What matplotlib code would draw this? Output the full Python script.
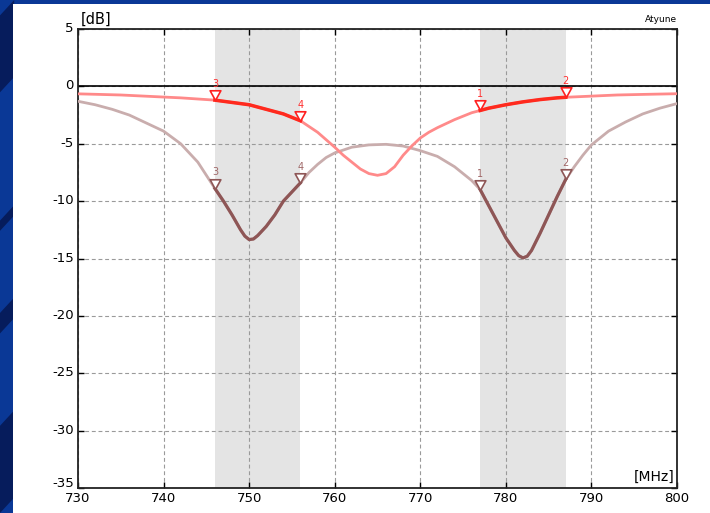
import matplotlib
matplotlib.use("Agg")
import matplotlib.pyplot as plt
import numpy as np
from matplotlib.path import Path
from matplotlib.patches import Rectangle, Polygon
import matplotlib.transforms as mtransforms

# ---- data ----
freq_red = [730, 735, 740, 742, 746, 748, 750, 752, 754, 756, 758, 760, 761, 762, 763, 764, 765,
            766, 767, 768, 769, 770, 771, 772, 774, 776, 777, 778, 780, 782, 784, 786, 787, 790,
            793, 796, 800]
db_red = [-0.65, -0.75, -0.93, -1.0, -1.2, -1.4, -1.6, -2.0, -2.4, -3.0, -4.0, -5.3, -6.0, -6.6,
          -7.2, -7.6, -7.75, -7.6, -7.0, -6.0, -5.2, -4.5, -4.0, -3.6, -2.9, -2.3, -2.1, -1.9,
          -1.6, -1.35, -1.15, -1.0, -0.95, -0.85, -0.75, -0.7, -0.64]

freq_brown = [730, 732, 734, 736, 738, 740, 742, 744, 746, 747, 748, 749, 749.5, 750, 750.5, 751,
              752, 753, 754, 755, 756, 757, 758, 759, 760, 762, 764, 766, 768, 770, 772, 774, 776,
              777, 778, 779, 780, 781, 781.5, 782, 782.5, 783, 784, 785, 786, 787, 788, 789, 790,
              792, 794, 796, 798, 800]
db_brown = [-1.3, -1.6, -2.0, -2.5, -3.2, -3.9, -5.0, -6.6, -8.9, -10.0, -11.2, -12.5, -13.05,
            -13.35, -13.3, -13.0, -12.2, -11.2, -10.0, -9.2, -8.4, -7.5, -6.8, -6.2, -5.8, -5.3,
            -5.1, -5.05, -5.2, -5.6, -6.1, -7.0, -8.2, -9.0, -10.4, -11.8, -13.2, -14.3, -14.75,
            -14.95, -14.8, -14.3, -12.8, -11.2, -9.6, -8.1, -7.0, -6.0, -5.1, -3.9, -3.1, -2.4,
            -1.9, -1.5]

bands = [(746, 756), (777, 787)]
marker_freqs = [777, 787, 746, 756]
marker_labels = ["1", "2", "3", "4"]

x_ticks = [730, 740, 750, 760, 770, 780, 790, 800]
y_ticks = [5, 0, -5, -10, -15, -20, -25, -30, -35]

# ---- figure ----
fig = plt.figure(figsize=(7.10, 5.13), dpi=100, facecolor="#0a3896")
for (y0, y1) in [(0.82, 1.0), (0.55, 0.6), (0.35, 0.42), (0.0, 0.2)]:
    fig.patches.append(Polygon([[0, y0], [0.02, y0 + 0.03], [0.02, y1], [0, y1 - 0.03]],
                               closed=True, transform=fig.transFigure,
                               facecolor="#061c5c", edgecolor="none", zorder=-10))
fig.patches.append(Rectangle((13 / 710, 0), 1 - 13 / 710, 509 / 513, transform=fig.transFigure,
                             facecolor="white", edgecolor="none", zorder=-5))

ax = fig.add_axes([78 / 710, 1 - 488 / 513, (677 - 78) / 710, (488 - 29) / 513])
ax.set_facecolor("white")
ax.set_xlim(730, 800)
ax.set_ylim(-35, 5)

for a, b in bands:
    ax.axvspan(a, b, color="#e4e4e4", zorder=0, lw=0)

ax.set_xticks(x_ticks)
ax.set_yticks(y_ticks)
ax.set_yticklabels([str(v) for v in y_ticks])
ax.grid(True, linestyle=(0, (3.5, 2.5)), color="#9a9a9a", linewidth=0.8, zorder=1)
ax.axhline(0, color="black", linewidth=1.2, zorder=2)
ax.tick_params(direction="in", length=4, width=1, top=True, right=True,
               labelsize=9.5, colors="black", pad=3)
for s in ax.spines.values():
    s.set_color("#222222")
    s.set_linewidth(1.3)

for lbl, v in zip(ax.get_yticklabels(), y_ticks):
    dy = 6 if v == -35 else 2
    lbl.set_transform(lbl.get_transform() + mtransforms.ScaledTranslation(0, dy / 100, fig.dpi_scale_trans))

fr = np.array(freq_red); dr = np.array(db_red)
fb = np.array(freq_brown); dbb = np.array(db_brown)

ax.plot(fb, dbb, color="#c9adad", lw=2.0, zorder=3, solid_joinstyle="round")
ax.plot(fr, dr, color="#ff8a8a", lw=2.0, zorder=4, solid_joinstyle="round")
for a, b in bands:
    m = (fb >= a) & (fb <= b)
    ax.plot(fb[m], dbb[m], color="#8e5656", lw=2.3, zorder=5, solid_joinstyle="round")
    m = (fr >= a) & (fr <= b)
    ax.plot(fr[m], dr[m], color="#ff2a1e", lw=2.5, zorder=6, solid_joinstyle="round")

tri = Path([(-0.55, 1.0), (0.55, 1.0), (0.0, 0.0), (-0.55, 1.0)],
           [Path.MOVETO, Path.LINETO, Path.LINETO, Path.CLOSEPOLY])
for f, lab in zip(marker_freqs, marker_labels):
    yr = np.interp(f, fr, dr)
    yb = np.interp(f, fb, dbb)
    ax.plot([f], [yr], marker=tri, markersize=14, markerfacecolor="white",
            markeredgecolor="#ff2020", markeredgewidth=1.2, zorder=8, clip_on=False)
    ax.annotate(lab, (f, yr), xytext=(0, 8), textcoords="offset points", ha="center",
                va="bottom", color="#ff3030", fontsize=7, zorder=9)
    ax.plot([f], [yb], marker=tri, markersize=14, markerfacecolor="white",
            markeredgecolor="#8e5656", markeredgewidth=1.2, zorder=8)
    ax.annotate(lab, (f, yb), xytext=(0, 8), textcoords="offset points", ha="center",
                va="bottom", color="#a06868", fontsize=7, zorder=9)

ax.text(0.005, 1.005, "[dB]", transform=ax.transAxes, ha="left", va="bottom", fontsize=10.5)
ax.text(1.0, 1.01, "Atyune", transform=ax.transAxes, ha="right", va="bottom", fontsize=6.5)
ax.text(0.995, 0.008, "[MHz]", transform=ax.transAxes, ha="right", va="bottom", fontsize=10)

fig.savefig("out.png", dpi=100, facecolor=fig.get_facecolor())
